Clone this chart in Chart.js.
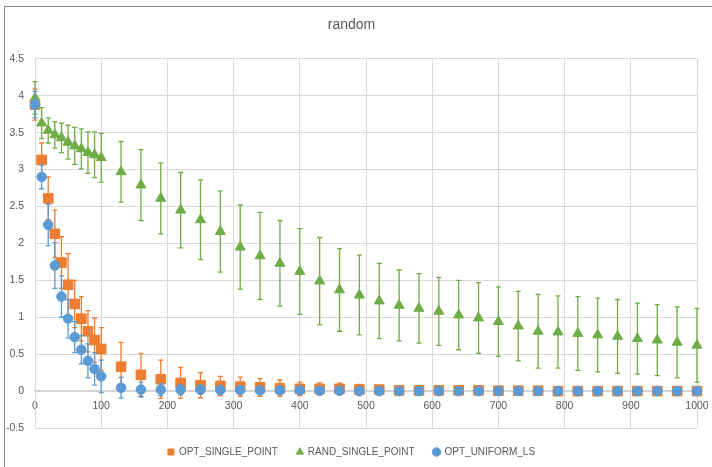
<!DOCTYPE html>
<html>
<head>
<meta charset="utf-8">
<script src="https://cdn.jsdelivr.net/npm/chart.js@4"></script>
<style>
  html, body { margin: 0; padding: 0; background: #ffffff; overflow: hidden; }
  #wrap { position: relative; width: 712px; height: 467px; }
  #frame { position: absolute; left: 4px; top: 6px; width: 800px; height: 600px;
           border-top: 1px solid #8a8a8a; border-left: 1px solid #8a8a8a; pointer-events: none; }
</style>
</head>
<body>
<div id="wrap">
  <canvas id="c" width="712" height="467"></canvas>
  <div id="frame"></div>
</div>
<script>
const chartTitle = 'random';
const seriesNames = ['OPT_SINGLE_POINT', 'RAND_SINGLE_POINT', 'OPT_UNIFORM_LS'];

const xValues = [0,10,20,30,40,50,60,70,80,90,100,
  130,160,190,220,250,280,310,340,370,400,430,460,490,520,550,580,
  610,640,670,700,730,760,790,820,850,880,910,940,970,1000];

const optSinglePoint = [3.88,3.13,2.61,2.13,1.74,1.44,1.18,0.98,0.81,0.69,0.57,
  0.33,0.22,0.16,0.11,0.08,0.07,0.06,0.05,0.04,0.03,0.03,0.03,0.02,0.02,0.01,0.01,
  0.01,0.01,0.01,0.005,0.005,0.005,0,0,0,0,0,0,0,0];
const optSinglePointErr = [0.21,0.23,0.29,0.32,0.35,0.42,0.32,0.30,0.28,0.30,0.29,
  0.33,0.29,0.26,0.21,0.17,0.13,0.13,0.12,0.11,0.09,0.08,0.08,0.07,0.05,0.05,0.04,
  0.03,0.03,0.02,0.02,0.02,0.02,0.01,0.01,0.01,0.01,0.01,0.01,0.01,0.01];

const randSinglePoint = [3.97,3.63,3.53,3.47,3.43,3.37,3.32,3.28,3.23,3.20,3.16,
  2.97,2.79,2.61,2.45,2.32,2.16,1.95,1.83,1.73,1.62,1.49,1.37,1.30,1.22,1.16,1.12,
  1.08,1.03,0.99,0.94,0.88,0.81,0.80,0.78,0.76,0.74,0.71,0.69,0.66,0.62];
const randSinglePointErr = [0.22,0.21,0.17,0.18,0.20,0.23,0.25,0.27,0.28,0.31,0.33,
  0.41,0.48,0.48,0.51,0.54,0.55,0.57,0.59,0.58,0.58,0.59,0.56,0.54,0.51,0.48,0.47,
  0.46,0.47,0.48,0.47,0.47,0.50,0.49,0.50,0.50,0.50,0.48,0.48,0.48,0.50];

const optUniformLS = [3.88,2.90,2.25,1.70,1.28,0.98,0.73,0.56,0.41,0.30,0.20,
  0.045,0.02,0.02,0.02,0.02,0.015,0.015,0.01,0.01,0.01,0.005,0.005,0,0,0,0,
  0,0,0,0,0,0,0,0,0,0,0,0,0,0];
const optUniformLSErr = [0.18,0.16,0.28,0.31,0.28,0.26,0.21,0.19,0.23,0.22,0.22,
  0.14,0.10,0.08,0.07,0.06,0.06,0.05,0.04,0.04,0.03,0.03,0.02,0.02,0.02,0.01,0.01,
  0.01,0.01,0.01,0.01,0.01,0.01,0.01,0.01,0.01,0.01,0.01,0.01,0.01,0.01];

const xTickLabels = ['0','100','200','300','400','500','600','700','800','900','1000'];
const yTickLabels = ['-0.5','0','0.5','1','1.5','2','2.5','3','3.5','4','4.5'];

const toPoints = (ys) => xValues.map((x, i) => ({ x: x, y: ys[i] }));

const errorBarPlugin = {
  id: 'errorBars',
  beforeDatasetDraw(chart, args) {
    const ds = chart.data.datasets[args.index];
    if (!ds.errors) return;
    const yScale = chart.scales.y;
    const ctx = chart.ctx;
    ctx.save();
    ctx.strokeStyle = ds.errorColor;
    ctx.lineWidth = 1.3;
    args.meta.data.forEach((pt, i) => {
      const v = ds.data[i].y, e = ds.errors[i];
      const x = pt.x;
      const yT = yScale.getPixelForValue(v + e);
      const yB = yScale.getPixelForValue(v - e);
      ctx.beginPath();
      ctx.moveTo(x, yT); ctx.lineTo(x, yB);
      ctx.moveTo(x - 2.5, yT); ctx.lineTo(x + 2.5, yT);
      ctx.moveTo(x - 2.5, yB); ctx.lineTo(x + 2.5, yB);
      ctx.stroke();
    });
    ctx.restore();
  }
};

const FONT = "'Liberation Sans', Arial, sans-serif";
const TXT = '#595959';

const tickText = (list, v) => {
  const s = String(Math.round(v * 10) / 10);
  const i = list.indexOf(s);
  return i >= 0 ? list[i] : s;
};

new Chart(document.getElementById('c'), {
  type: 'scatter',
  data: {
    datasets: [
      { label: seriesNames[0], data: toPoints(optSinglePoint), errors: optSinglePointErr,
        errorColor: '#ED7D31', pointStyle: 'rect', pointRadius: 6.8, pointBorderWidth: 1,
        backgroundColor: '#ED7D31', borderColor: '#ED7D31', order: 3, clip: false },
      { label: seriesNames[1], data: toPoints(randSinglePoint), errors: randSinglePointErr,
        errorColor: '#70AD47', pointStyle: 'triangle', pointRadius: 5.8, pointBorderWidth: 1,
        backgroundColor: '#70AD47', borderColor: '#70AD47', order: 2, clip: false },
      { label: seriesNames[2], data: toPoints(optUniformLS), errors: optUniformLSErr,
        errorColor: '#5B9BD5', pointStyle: 'circle', pointRadius: 4.8, pointBorderWidth: 1,
        backgroundColor: '#5B9BD5', borderColor: '#5B9BD5', order: 1, clip: false }
    ]
  },
  options: {
    responsive: false,
    animation: false,
    devicePixelRatio: 1,
    layout: { padding: { left: 6, right: 15, top: 0, bottom: 0 } },
    plugins: {
      title: { display: true, text: chartTitle, color: TXT,
        font: { family: FONT, size: 14, weight: 'normal' },
        padding: { top: 16.5, bottom: 25.5 } },
      legend: { display: true, position: 'bottom',
        labels: { usePointStyle: true, boxWidth: 6, boxHeight: 6, padding: 19,
          color: TXT, font: { family: FONT, size: 10 },
          sort: (a, b) => a.datasetIndex - b.datasetIndex } },
      tooltip: { enabled: false }
    },
    scales: {
      x: {
        type: 'linear', position: { y: 0 }, min: 0, max: 1000,
        grid: { color: '#d9d9d9', drawTicks: false },
        border: { color: '#d4d4d4', width: 2 },
        afterFit: (s) => { s.paddingLeft = 0; s.paddingRight = 0; s.paddingTop = 0; s.paddingBottom = 0; },
        ticks: { stepSize: 100, padding: 9, color: TXT, maxRotation: 0,
          font: { family: FONT, size: 10.5 },
          callback: (v) => tickText(xTickLabels, v) }
      },
      y: {
        type: 'linear', min: -0.5, max: 4.5,
        grid: { color: '#d9d9d9', drawTicks: false },
        border: { color: '#d9d9d9' },
        afterFit: (s) => { s.width = 29; },
        ticks: { stepSize: 0.5, padding: 11, color: TXT,
          font: { family: FONT, size: 10.5 },
          callback: (v) => tickText(yTickLabels, v) }
      }
    }
  },
  plugins: [errorBarPlugin]
});
</script>
</body>
</html>
